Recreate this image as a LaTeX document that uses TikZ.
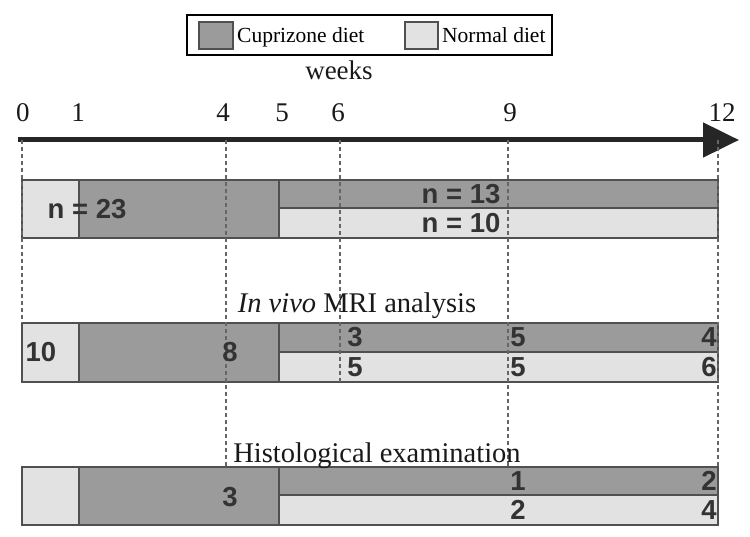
\documentclass[tikz,border=0pt]{standalone}
\usepackage{fontspec}
\setmainfont{Liberation Serif}
\newfontfamily\barfont{Liberation Sans}
\usetikzlibrary{arrows.meta,positioning}
\definecolor{cupgray}{RGB}{155,155,155}
\definecolor{normgray}{RGB}{226,226,226}
\definecolor{edgegray}{RGB}{80,80,80}

\begin{document}
\begin{tikzpicture}[x=1pt,y=-1pt,
		cup/.style={fill=cupgray,draw=edgegray,line width=2pt},
		norm/.style={fill=normgray,draw=edgegray,line width=2pt},
		guide/.style={draw=black!60,line width=1.1pt,dash pattern=on 4pt off 3pt},
		num/.style={font=\barfont\bfseries\fontsize{27.5}{27.5}\selectfont,text=black!80,inner sep=0pt},
		lbl/.style={font=\fontsize{27}{27}\selectfont,inner sep=0pt,anchor=base,text=black!90},
		keytext/.style={inner sep=0pt,anchor=base west,yshift=-7.5pt,font=\fontsize{21.5}{21.5}\selectfont}]
		\useasboundingbox (0,0) rectangle (750,537);
		% legend
		\node[draw=black,line width=2pt,minimum width=365pt,minimum height=40pt,inner sep=0pt] (legend) at (369.5,35) {};
		\node[cup,minimum width=34pt,minimum height=27pt,inner sep=0pt] (cupkey) at (216,35.5) {};
		\node[right=3pt of cupkey,keytext] (cuptext) {Cuprizone diet};
		\node[norm,minimum width=33pt,minimum height=27pt,inner sep=0pt] (normkey) at (421.5,35.5) {};
		\node[right=3pt of normkey,keytext] (normtext) {Normal diet};
		% time axis
		\node[lbl] (weeks) at (339,80) {weeks};
		\foreach \wk/\xx in {0/22,1/79,4/226,5/279,6/340,9/508,12/718}
		\coordinate (w\wk) at (\xx,140);
		\foreach \wk/\xx in {0/23,1/78,4/223,5/282,6/338,9/510,12/722}
		\node[lbl] (tk\wk) at (\xx,122) {\wk};
		\coordinate (axstart) at (18,140);
		\coordinate (axend) at (739,140);
		\draw[line width=5pt,black!85,-{Triangle[length=36pt,width=34pt]}] (axstart) -- (axend);
		% groups
		\foreach \ya/\yb/\yc in {180/208/238,323/352/382,467/495/525}{
			\draw[norm] (22,\ya) rectangle (79,\yc);
			\draw[cup] (79,\ya) rectangle (279,\yc);
			\draw[cup] (279,\ya) rectangle (718,\yb);
			\draw[norm] (279,\yb) rectangle (718,\yc);
		}
		\coordinate (mritop) at (0,323);
		\coordinate (mribot) at (0,382);
		\coordinate (histotop) at (0,467);
		\draw[guide] (w0) -- (w0 |- mritop);
		\draw[guide] (w4) -- (w4 |- histotop);
		\draw[guide] (w6) -- (w6 |- mribot);
		\draw[guide] (w9) -- (w9 |- histotop);
		\draw[guide] (w12) -- (w12 |- histotop);
		\node[lbl,font=\fontsize{28.5}{28.5}\selectfont] (mrititle) at (357,313) {\textit{In vivo} MRI analysis};
		\node[lbl,font=\fontsize{28.5}{28.5}\selectfont] (histotitle) at (377,462) {Histological examination};
		% counts
		\node[num] (all) at (87,209) {n = 23};
		\node[num] (cupall) at (461,194) {n = 13};
		\node[num] (normall) at (461,223) {n = 10};
		\node[num] (mri0) at (41,352) {10};
		\node[num] (mri5) at (230,352) {8};
		\node[num] (mricup6) at (355,337) {3};
		\node[num] (mricup9) at (518,337) {5};
		\node[num] (mricup12) at (709,337) {4};
		\node[num] (mrinorm6) at (355,367) {5};
		\node[num] (mrinorm9) at (518,367) {5};
		\node[num] (mrinorm12) at (709,367) {6};
		\node[num] (histo5) at (230,497) {3};
		\node[num] (histocup9) at (518,481) {1};
		\node[num] (histocup12) at (709,481) {2};
		\node[num] (histonorm9) at (518,510) {2};
		\node[num] (histonorm12) at (709,510) {4};
\end{tikzpicture}
\end{document}
